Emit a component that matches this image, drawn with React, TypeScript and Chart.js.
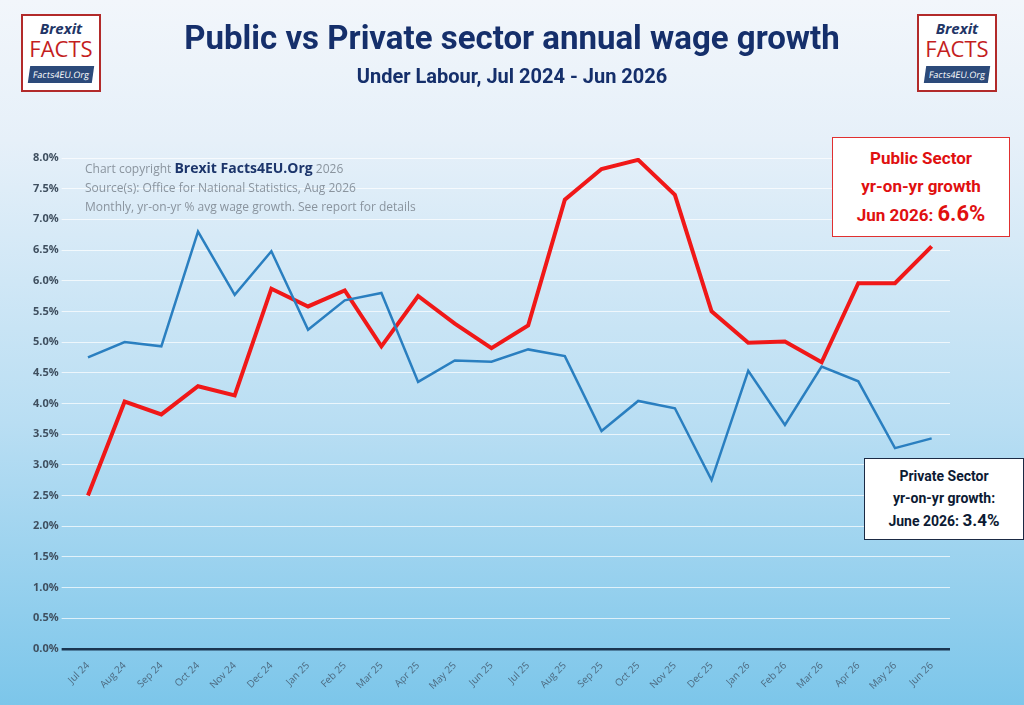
import React, { useEffect, useRef } from "react";
import { Chart, registerables } from "chart.js";
Chart.register(...registerables);

const months = ["Jul 24","Aug 24","Sep 24","Oct 24","Nov 24","Dec 24","Jan 25","Feb 25","Mar 25","Apr 25","May 25","Jun 25","Jul 25","Aug 25","Sep 25","Oct 25","Nov 25","Dec 25","Jan 26","Feb 26","Mar 26","Apr 26","May 26","Jun 26"];
const privateSector = [4.75,5.0,4.93,6.8,5.77,6.48,5.2,5.68,5.8,4.35,4.7,4.68,4.88,4.77,3.55,4.04,3.92,2.75,4.53,3.65,4.6,4.36,3.27,3.43];
const publicSector = [2.5,4.03,3.82,4.28,4.13,5.87,5.58,5.84,4.93,5.75,5.3,4.9,5.27,7.32,7.82,7.97,7.4,5.5,4.99,5.01,4.67,5.96,5.96,6.56];

function Logo({ left }: { left: number }) {
  return (
    <div style={{ position: "absolute", left, top: 14, width: 80, height: 78, border: "2px solid #b22a2a", background: "#fff", textAlign: "center", fontFamily: "'Open Sans', sans-serif", boxSizing: "border-box" }}>
      <div style={{ color: "#1f3566", fontStyle: "italic", fontWeight: 700, fontSize: 15, marginTop: 4, lineHeight: "16px" }}>Brexit</div>
      <div style={{ color: "#c41e1e", fontSize: 22, lineHeight: "24px" }}>FACTS</div>
      <div style={{ background: "#2c4a7a", color: "#fff", fontSize: 9, margin: "6px 6px 0", padding: "2px 0", transform: "skewX(-8deg)" }}>Facts4EU.Org</div>
    </div>
  );
}

export default function App() {
  const ref = useRef<HTMLCanvasElement>(null);
  useEffect(() => {
    document.body.style.margin = "0";
    const ch = new Chart(ref.current!, {
      type: "line",
      data: {
        labels: months,
        datasets: [
          { data: privateSector, borderColor: "#2a7fc0", borderWidth: 2.5, pointRadius: 0, tension: 0 },
          { data: publicSector, borderColor: "#f01818", borderWidth: 4, pointRadius: 0, tension: 0 },
        ],
      },
      options: {
        animation: false,
        responsive: false,
        layout: { padding: { top: 158, left: 30, right: 74, bottom: 10 } },
        plugins: { legend: { display: false }, tooltip: { enabled: false } },
        scales: {
          x: {
            offset: true,
            grid: { display: false },
            border: { display: false },
            ticks: { color: "#4d6a80", font: { family: "'Open Sans'", size: 10 }, maxRotation: 45, minRotation: 45, autoSkip: false },
          },
          y: {
            min: 0, max: 8,
            grid: { color: (c: any) => (c.tick.value === 0 ? "#1a3550" : "rgba(255,255,255,0.7)"), lineWidth: (c: any) => (c.tick.value === 0 ? 2.5 : 1) },
            border: { display: false },
            ticks: { stepSize: 0.5, color: "#3f4f5f", font: { family: "'Open Sans'", size: 11, weight: "bold" }, callback: (v: any) => Number(v).toFixed(1) + "%" },
          },
        },
      },
    });
    return () => ch.destroy();
  }, []);
  return (
    <div style={{ position: "relative", width: 1024, height: 705, overflow: "hidden", background: "linear-gradient(#f2f6fb 0%, #e6f0f9 20%, #b9def3 60%, #7cc6ea 100%)", fontFamily: "Roboto, sans-serif" }}>
      <canvas ref={ref} width={1024} height={705} style={{ position: "absolute", left: 0, top: 0 }} />
      <Logo left={21} />
      <Logo left={917} />
      <div style={{ position: "absolute", top: 18, left: 0, width: 1024, textAlign: "center", color: "#152f6b", fontWeight: 700, fontSize: 33 }}>Public vs Private sector annual wage growth</div>
      <div style={{ position: "absolute", top: 64, left: 0, width: 1024, textAlign: "center", color: "#152f6b", fontWeight: 700, fontSize: 20 }}>Under Labour, Jul 2024 - Jun 2026</div>
      <div style={{ position: "absolute", top: 158, left: 85, color: "#8a949e", fontSize: 12, lineHeight: "19px", fontFamily: "'Open Sans', sans-serif" }}>
        <div>Chart copyright <span style={{ color: "#1c356b", fontWeight: 700, fontSize: 14 }}>Brexit Facts4EU.Org</span> 2026</div>
        <div>Source(s): Office for National Statistics, Aug 2026</div>
        <div>Monthly, yr-on-yr % avg wage growth. See report for details</div>
      </div>
      <div style={{ position: "absolute", left: 832, top: 137, width: 178, height: 100, boxSizing: "border-box", background: "#fff", border: "1px solid #e03030", color: "#e01010", fontWeight: 700, textAlign: "center", fontSize: 17, lineHeight: "28px", paddingTop: 6 }}>
        <div>Public Sector</div>
        <div>yr-on-yr growth</div>
        <div>Jun 2026: <span style={{ fontSize: 22 }}>6.6%</span></div>
      </div>
      <div style={{ position: "absolute", left: 864, top: 458, width: 160, height: 82, boxSizing: "border-box", background: "#fff", border: "1px solid #1b2a44", color: "#0c1a33", fontWeight: 700, textAlign: "center", fontSize: 14, lineHeight: "22px", paddingTop: 6 }}>
        <div>Private Sector</div>
        <div>yr-on-yr growth:</div>
        <div>June 2026: <span style={{ fontSize: 17 }}>3.4%</span></div>
      </div>
    </div>
  );
}
